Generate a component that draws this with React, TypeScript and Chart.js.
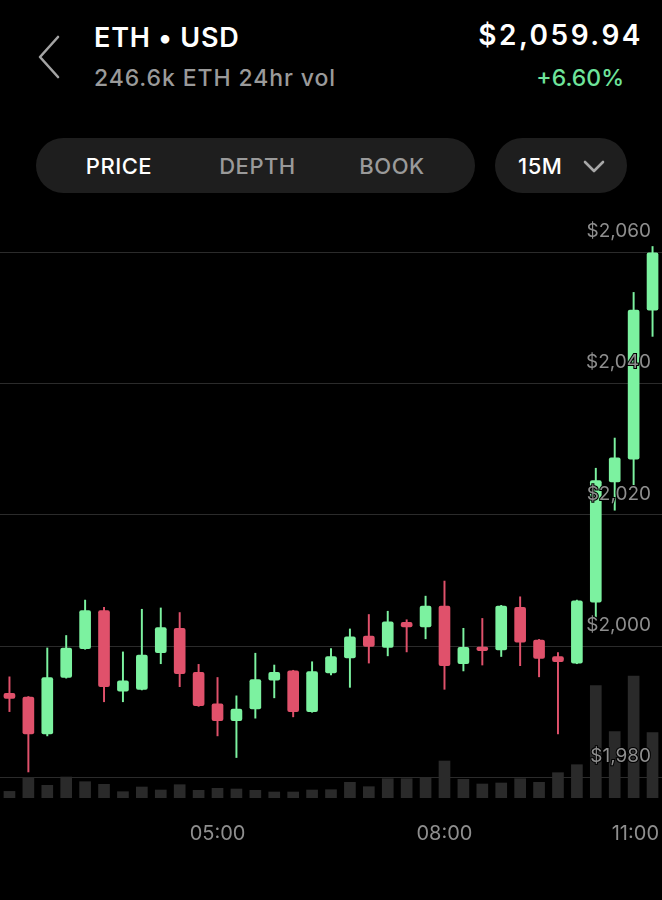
import { useEffect, useRef } from 'react';
import { Chart, registerables } from 'chart.js';

Chart.register(...registerables);

// ---------- DATA ----------
const times = [
  '02:15', '02:30', '02:45', '03:00', '03:15', '03:30', '03:45', '04:00', '04:15', '04:30', '04:45',
  '05:00', '05:15', '05:30', '05:45', '06:00', '06:15', '06:30', '06:45', '07:00', '07:15', '07:30', '07:45',
  '08:00', '08:15', '08:30', '08:45', '09:00', '09:15', '09:30', '09:45', '10:00', '10:15', '10:30', '10:45',
];
const opens = [
  1992.8, 1992.2, 1986.6, 1995.2, 1999.6, 2005.4, 1993.1, 1993.4, 1999.0, 2002.7, 1996.0, 1991.2,
  1988.6, 1990.4, 1994.8, 1996.2, 1990.0, 1995.9, 1998.2, 2001.5, 1999.8, 2003.6, 2002.9, 2006.1,
  1997.3, 1999.85, 1999.4, 2005.9, 2000.9, 1998.4, 1997.4, 2006.7, 2025.0, 2028.5, 2051.2,
];
const closes = [
  1992.0, 1986.6, 1995.2, 1999.7, 2005.4, 1993.8, 1994.7, 1998.6, 2002.8, 1995.8, 1990.9, 1988.6,
  1990.4, 1994.9, 1996.0, 1990.0, 1996.1, 1998.4, 2001.4, 1999.95, 2003.7, 2002.9, 2006.1, 1997.0,
  1999.8, 1999.3, 2006.1, 2000.6, 1998.1, 1997.6, 2006.9, 2025.2, 2028.7, 2051.2, 2059.94,
];
const highs = [
  1995.3, 1992.3, 1999.7, 2001.6, 2007.0, 2005.9, 1999.1, 2005.6, 2005.8, 2005.1, 1997.2, 1995.2,
  1992.4, 1998.9, 1997.1, 1996.3, 1997.6, 1999.6, 2002.6, 2004.8, 2005.3, 2004.0, 2007.6, 2009.9,
  2002.7, 2004.2, 2006.2, 2007.5, 2001.0, 1999.0, 2007.0, 2027.1, 2031.7, 2053.9, 2060.9,
];
const lows = [
  1990.0, 1980.8, 1986.3, 1995.1, 1999.5, 1991.5, 1991.5, 1993.3, 1997.3, 1993.8, 1990.8, 1986.3,
  1983.0, 1989.0, 1992.1, 1989.2, 1989.9, 1995.6, 1993.7, 1997.4, 1998.5, 1999.1, 2001.1, 1993.4,
  1996.2, 1997.1, 1998.4, 1997.0, 1995.3, 1986.6, 1997.3, 2004.2, 2020.7, 2024.5, 2047.2,
];
const volumes = [
  660, 2000, 1270, 2100, 1630, 1370, 630, 1100, 800, 1330, 770, 970,
  900, 770, 600, 600, 800, 830, 1570, 1130, 1930, 1930, 2030, 3700,
  1870, 1400, 1500, 1930, 1570, 2530, 3330, 11230, 6630, 12200, 6530,
];
const priceTicks = [1980, 2000, 2020, 2040, 2060];
const timeTicks = ['05:00', '08:00', '11:00'];

// ---------- STYLE ----------
const GREEN = '#7cf2a0';
const RED = '#e0516b';
const VOL = '#2a2a2a';
const GRID = '#2b2b2b';
const LABEL = '#8e8e8e';
const FONT = 'Inter, "Noto Sans", sans-serif';
const PRICE_MIN = 1976.83;
const PRICE_MAX = 2064.94;
const VOL_MAX = 57800;

const toMin = (t: string) => {
  const [h, m] = t.split(':').map(Number);
  return h * 60 + m;
};

const timeAxisPlugin = {
  id: 'timeAxis',
  afterDraw(chart: any) {
    const x = chart.scales.x;
    const { ctx, chartArea } = chart;
    ctx.save();
    ctx.font = `20px ${FONT}`;
    ctx.fillStyle = LABEL;
    ctx.textAlign = 'center';
    ctx.textBaseline = 'middle';
    const step = toMin(times[1]) - toMin(times[0]);
    timeTicks.forEach((t) => {
      const idx = (toMin(t) - toMin(times[0])) / step;
      const w = ctx.measureText(t).width;
      let px = x.getPixelForValue(idx);
      px = Math.min(px, chartArea.right - w / 2 - 3);
      px = Math.max(px, chartArea.left + w / 2);
      ctx.fillText(t, px, chartArea.bottom + 36);
    });
    ctx.restore();
  },
};

const flatFit = (s: any) => {
  s.width = 0;
  s.paddingTop = 0;
  s.paddingBottom = 0;
  s.paddingLeft = 0;
  s.paddingRight = 0;
};

function CandleChart() {
  const ref = useRef<HTMLCanvasElement | null>(null);
  useEffect(() => {
    if (!ref.current) return;
    const colors = closes.map((c, i) => (c >= opens[i] ? GREEN : RED));
    const setTicks = (axis: any) => {
      axis.ticks = priceTicks.map((v) => ({ value: v }));
    };
    const chart = new Chart(ref.current, {
      type: 'bar',
      data: {
        labels: times,
        datasets: [
          {
            label: 'body',
            data: opens.map((o, i) => [o, closes[i]]) as any,
            backgroundColor: colors,
            barThickness: 11,
            borderRadius: 2,
            borderSkipped: false,
            grouped: false,
            yAxisID: 'y',
            order: 0,
          } as any,
          {
            label: 'wick',
            data: lows.map((l, i) => [l, highs[i]]) as any,
            backgroundColor: colors,
            barThickness: 1.3,
            grouped: false,
            yAxisID: 'y',
            order: 1,
          } as any,
          {
            label: 'volume',
            data: volumes,
            backgroundColor: VOL,
            barThickness: 11,
            grouped: false,
            yAxisID: 'yv',
            order: 2,
          } as any,
        ],
      },
      options: {
        responsive: false,
        animation: false,
        devicePixelRatio: 1,
        layout: { padding: { top: 12, bottom: 62, left: 0, right: 0 } },
        plugins: { legend: { display: false }, tooltip: { enabled: false } },
        scales: {
          x: { type: 'category', display: false, offset: true, grid: { display: false } },
          y: {
            type: 'linear',
            position: 'right',
            min: PRICE_MIN,
            max: PRICE_MAX,
            afterBuildTicks: setTicks,
            afterFit: flatFit,
            grid: { color: GRID, lineWidth: 1, drawTicks: false },
            border: { display: false },
            ticks: { display: false },
          },
          yl: {
            type: 'linear',
            position: 'right',
            z: 1,
            min: PRICE_MIN,
            max: PRICE_MAX,
            afterBuildTicks: setTicks,
            afterFit: flatFit,
            grid: { display: false, drawTicks: false },
            border: { display: false },
            ticks: {
              z: 1,
              mirror: true,
              padding: -11,
              labelOffset: -21,
              color: LABEL,
              font: { family: FONT, size: 19 },
              textStrokeColor: '#000',
              textStrokeWidth: 2,
              callback: (v: any) => '$' + Number(v).toLocaleString('en-US'),
            },
          } as any,
          yv: { type: 'linear', display: false, min: 0, max: VOL_MAX },
        },
      } as any,
      plugins: [timeAxisPlugin],
    });
    return () => chart.destroy();
  }, []);
  return (
    <canvas
      ref={ref}
      width={662}
      height={652}
      style={{ position: 'absolute', left: 0, top: 208, width: 662, height: 652 }}
    />
  );
}

export default function App() {
  const abs = (s: any) => ({ position: 'absolute', margin: 0, whiteSpace: 'nowrap', ...s }) as any;
  return (
    <div style={{ position: 'fixed', left: 0, top: 0, width: 662, height: 900, background: '#000', fontFamily: FONT, overflow: 'hidden' }}>
      <svg style={abs({ left: 36, top: 35 })} width={28} height={44}>
        <polyline points="22,2 4,22 22,42" fill="none" stroke="#a3a3a3" strokeWidth={2.6} strokeLinecap="round" strokeLinejoin="round" />
      </svg>
      <div style={abs({ left: 94, top: 23.5, fontSize: 27, lineHeight: '27px', fontWeight: 600, color: '#fff', letterSpacing: 0.8 })}>ETH • USD</div>
      <div style={abs({ left: 94, top: 66.5, fontSize: 23, lineHeight: '23px', fontWeight: 500, color: '#9a9a9a', letterSpacing: 0.9 })}>246.6k ETH 24hr vol</div>
      <div style={abs({ right: 662 - 643, top: 21, fontSize: 28, lineHeight: '28px', fontWeight: 600, color: '#fff', letterSpacing: 2.5 })}>$2,059.94</div>
      <div style={abs({ right: 662 - 624, top: 66.5, fontSize: 23, lineHeight: '23px', fontWeight: 500, color: '#6fe49b' })}>+6.60%</div>

      <div style={abs({ left: 36, top: 138, width: 439, height: 55, borderRadius: 28, background: '#1e1e1e' })} />
      {[
        ['PRICE', 119, '#fff'],
        ['DEPTH', 257.5, '#9a9a9a'],
        ['BOOK', 392, '#9a9a9a'],
      ].map(([t, cx, c]) => (
        <div key={t as string} style={abs({ left: (cx as number) - 60, width: 120, textAlign: 'center', top: 154.5, fontSize: 22, lineHeight: '22px', fontWeight: 500, color: c, letterSpacing: 0.5 })}>{t}</div>
      ))}
      <div style={abs({ left: 495, top: 138, width: 132, height: 55, borderRadius: 28, background: '#1e1e1e' })} />
      <div style={abs({ left: 518, top: 154.5, fontSize: 22, lineHeight: '22px', fontWeight: 500, color: '#fff', letterSpacing: 0.5 })}>15M</div>
      <svg style={abs({ left: 582, top: 159 })} width={24} height={16}>
        <polyline points="3,3 12,12 21,3" fill="none" stroke="#a8a8a8" strokeWidth={2.6} strokeLinecap="round" strokeLinejoin="round" />
      </svg>

      <CandleChart />
    </div>
  );
}
